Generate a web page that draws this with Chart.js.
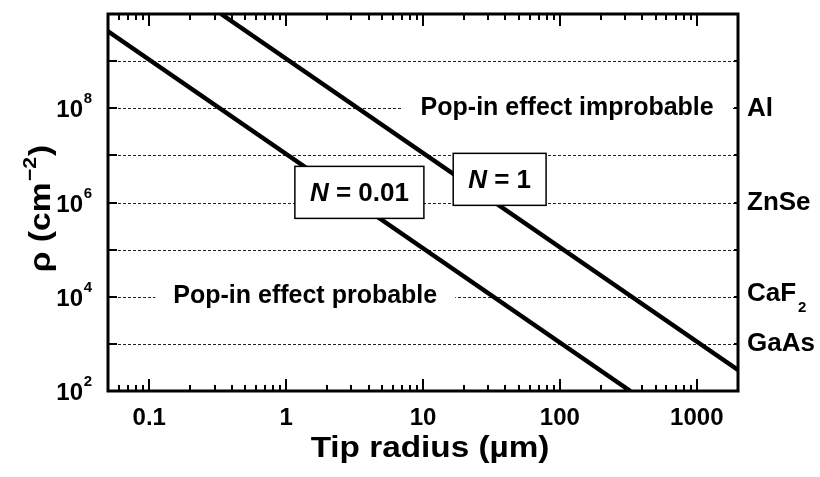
<!DOCTYPE html>
<html>
<head>
<meta charset="utf-8">
<script src="https://cdn.jsdelivr.net/npm/chart.js@4.4.0/dist/chart.umd.min.js"></script>
<style>
  body { margin: 0; background: #fff; }
</style>
</head>
<body>
<canvas id="rho-chart" width="820" height="477"></canvas>
<script>
const xTickValues = [0.1, 1, 10, 100, 1000];
const xTickLabels = ["0.1", "1", "10", "100", "1000"];
const yTickValues = [1e2, 1e4, 1e6, 1e8];
const yTickExponents = ["2", "4", "6", "8"];
const gridValues = [1e3, 1e4, 1e5, 1e6, 1e7, 1e8, 1e9];

// critical dislocation density, N = 0.01
const radiusLow = [0.05, 327];
const densityLow = [4.3e9, 100];
// critical dislocation density, N = 1
const radiusHigh = [0.335, 2000];
const densityHigh = [1e10, 280];

const curveNames = ["0.01", "1"];
const curveLabelRadius = [3.43, 36.3];
const curveLabelDensity = [1.64e6, 3.1e6];

const regionText = ["Pop-in effect improbable", "Pop-in effect probable"];
const regionRadius = [113, 1.38];
const regionDensity = [1e8, 1e4];

const materials = ["Al", "ZnSe", "CaF", "GaAs"];
const materialSub = ["", "", "2", ""];
const materialDensity = [1e8, 1e6, 1e4, 1e3];

const font = (size, style) => (style || "bold") + " " + size + 'px "Liberation Sans", Arial, sans-serif';

const decor = {
    id: "decor",
    beforeDatasetsDraw(chart) {
        const { ctx, chartArea: a, scales: { x, y } } = chart;
        ctx.save();
        // dotted decade lines
        ctx.strokeStyle = "#222";
        ctx.lineWidth = 1;
        ctx.setLineDash([3, 2]);
        gridValues.forEach(v => {
            const py = Math.round(y.getPixelForValue(v)) + 0.5;
            ctx.beginPath();
            ctx.moveTo(a.left, py);
            ctx.lineTo(a.right, py);
            ctx.stroke();
        });
        ctx.setLineDash([]);

        // region captions sit on a white patch over the grid
        ctx.font = font(25);
        ctx.textAlign = "center";
        regionText.forEach((t, i) => {
            const px = x.getPixelForValue(regionRadius[i]);
            const py = y.getPixelForValue(regionDensity[i]);
            const w = ctx.measureText(t).width + 36;
            ctx.fillStyle = "#fff";
            ctx.fillRect(px - w / 2, py - 14, w, 28);
            ctx.fillStyle = "#000";
            ctx.fillText(t, px, py + 6.5);
        });
        ctx.restore();
    },
    afterDatasetsDraw(chart) {
        const { ctx, chartArea: a, scales: { x, y } } = chart;
        ctx.save();

        // boxed N labels
        curveNames.forEach((n, i) => {
            const cx = x.getPixelForValue(curveLabelRadius[i]);
            const cy = y.getPixelForValue(curveLabelDensity[i]);
            ctx.font = font(26, "italic bold");
            const wN = ctx.measureText("N").width;
            ctx.font = font(26);
            const rest = " = " + n;
            const wR = ctx.measureText(rest).width;
            const bw = wN + wR + 30, bh = 52;
            ctx.fillStyle = "#fff";
            ctx.fillRect(cx - bw / 2, cy - bh / 2, bw, bh);
            ctx.lineWidth = 1.5;
            ctx.strokeStyle = "#000";
            ctx.strokeRect(cx - bw / 2, cy - bh / 2, bw, bh);
            ctx.fillStyle = "#000";
            ctx.textAlign = "left";
            const sx = cx - (wN + wR) / 2;
            ctx.font = font(26, "italic bold");
            ctx.fillText("N", sx, cy + 9);
            ctx.font = font(26);
            ctx.fillText(rest, sx + wN, cy + 9);
        });

        // frame
        ctx.strokeStyle = "#000";
        ctx.lineWidth = 3;
        ctx.strokeRect(a.left, a.top, a.right - a.left, a.bottom - a.top);

        // x ticks, inward on bottom and top
        ctx.lineWidth = 2;
        for (let e = -2; e <= 3; e++) {
            for (let k = 1; k <= 9; k++) {
                const v = k * Math.pow(10, e);
                if (v < 0.05 || v > 2000) continue;
                const px = Math.round(x.getPixelForValue(v));
                const len = k === 1 ? 12 : 6;
                ctx.beginPath();
                ctx.moveTo(px, a.bottom);
                ctx.lineTo(px, a.bottom - len);
                ctx.moveTo(px, a.top);
                ctx.lineTo(px, a.top + len);
                ctx.stroke();
            }
        }
        // y ticks at each decade
        for (let e = 3; e <= 9; e++) {
            const py = Math.round(y.getPixelForValue(Math.pow(10, e)));
            ctx.beginPath();
            ctx.moveTo(a.left, py);
            ctx.lineTo(a.left + 9, py);
            ctx.moveTo(a.right, py);
            ctx.lineTo(a.right - 4, py);
            ctx.stroke();
        }

        ctx.fillStyle = "#000";
        // x tick labels
        ctx.font = font(24);
        ctx.textAlign = "center";
        xTickValues.forEach((v, i) => {
            ctx.fillText(xTickLabels[i], x.getPixelForValue(v), a.bottom + 34);
        });

        // y tick labels as 10 with exponent
        yTickValues.forEach((v, i) => {
            const py = y.getPixelForValue(v);
            ctx.textAlign = "right";
            ctx.font = font(15);
            ctx.fillText(yTickExponents[i], a.left - 16, py - 5);
            ctx.font = font(24);
            ctx.fillText("10", a.left - 25, py + 9);
        });

        // material names on the right
        ctx.textAlign = "left";
        materials.forEach((m, i) => {
            const py = y.getPixelForValue(materialDensity[i]);
            const lift = materialSub[i] ? 4.5 : 7.5;
            ctx.font = font(26);
            ctx.fillText(m, a.right + 9, py + lift);
            if (materialSub[i]) {
                const w = ctx.measureText(m).width;
                ctx.font = font(15);
                ctx.fillText(materialSub[i], a.right + 11 + w, py + 15.5);
            }
        });

        // x title, slightly widened
        ctx.save();
        ctx.translate((a.left + a.right) / 2 + 7, a.bottom + 66);
        ctx.scale(1.11, 1);
        ctx.textAlign = "center";
        ctx.font = font(30);
        ctx.fillText("Tip radius (\u00b5m)", 0, 0);
        ctx.restore();

        // y title, rotated, with superscript
        const cy = (a.top + a.bottom) / 2 + 6;
        ctx.translate(50, cy);
        ctx.rotate(-Math.PI / 2);
        ctx.scale(1.12, 1);
        ctx.textAlign = "left";
        ctx.font = font(30);
        const p1 = "\u03c1 (cm", p3 = ")";
        const w1 = ctx.measureText(p1).width, w3 = ctx.measureText(p3).width;
        ctx.font = font(19);
        const w2 = ctx.measureText("\u22122").width;
        let t = -(w1 + w2 + w3 + 2) / 2;
        ctx.font = font(30);
        ctx.fillText(p1, t, 0);
        t += w1 + 1;
        ctx.font = font(19);
        ctx.fillText("\u22122", t, -14);
        t += w2 + 1;
        ctx.font = font(30);
        ctx.fillText(p3, t, 0);

        ctx.restore();
    }
};

const canvas = document.getElementById("rho-chart");
const rhoChart = new Chart(canvas, {
    type: "line",
    data: {
        datasets: [{
            label: "N = 0.01",
            data: radiusLow.map((r, i) => ({ x: r, y: densityLow[i] })),
            borderColor: "#000",
            borderWidth: 4.5,
            pointRadius: 0,
            fill: false,
            clip: 0
        }, {
            label: "N = 1",
            data: radiusHigh.map((r, i) => ({ x: r, y: densityHigh[i] })),
            borderColor: "#000",
            borderWidth: 4.5,
            pointRadius: 0,
            fill: false,
            clip: 0
        }]
    },
    options: {
        responsive: false,
        animation: false,
        devicePixelRatio: 1,
        layout: { padding: { left: 0, right: 82, top: 14, bottom: 0 } },
        plugins: { legend: { display: false }, tooltip: { enabled: false } },
        scales: {
            x: {
                type: "logarithmic",
                min: 0.05,
                max: 2000,
                grid: { display: false },
                border: { display: false },
                ticks: { display: false },
                afterFit: s => { s.height = 86; }
            },
            y: {
                type: "logarithmic",
                min: 1e2,
                max: 1e10,
                grid: { display: false },
                border: { display: false },
                ticks: { display: false },
                afterFit: s => { s.width = 108; }
            }
        }
    },
    plugins: [decor]
});
</script>
</body>
</html>
